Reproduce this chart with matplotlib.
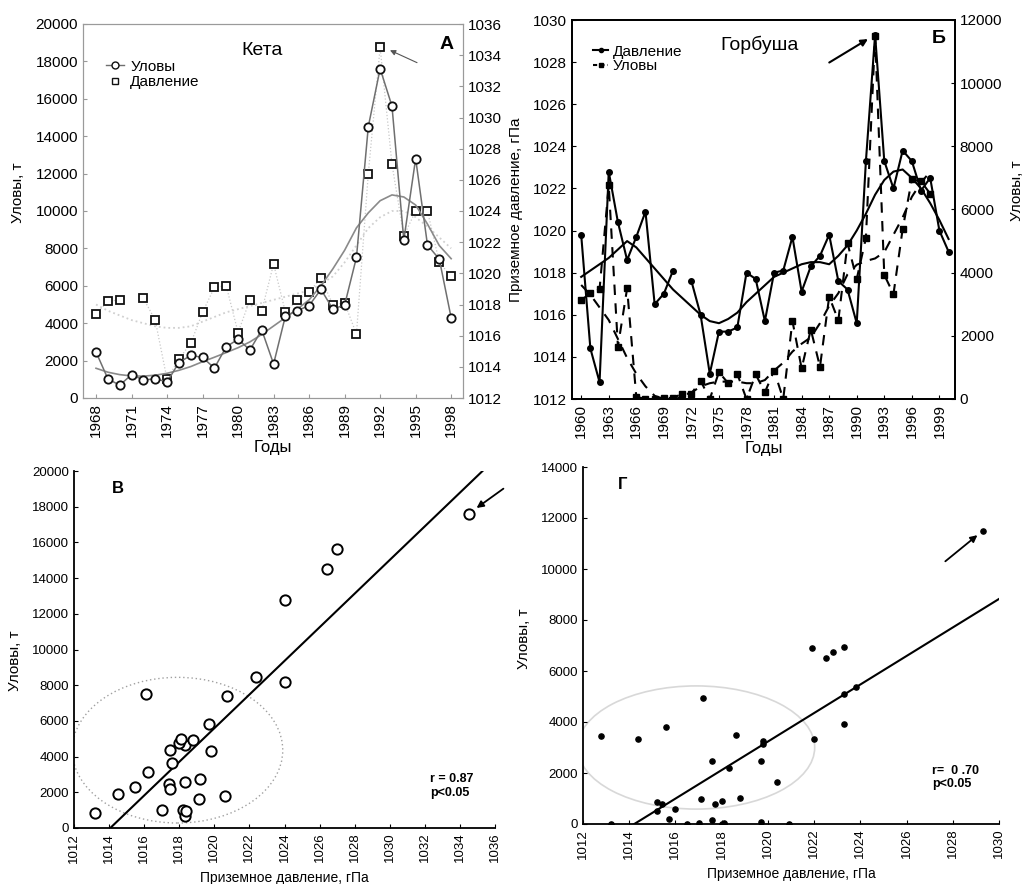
import numpy as np
import matplotlib.pyplot as plt
from matplotlib.lines import Line2D
from matplotlib.patches import Ellipse

plt.rcParams['font.family'] = ['Liberation Sans', 'DejaVu Sans']

# Кета: catches (t) and surface pressure (hPa), 1968-1998
keta_years = np.arange(1968, 1999)
keta_catch = [2460, 1030, 680, 1250, 960, 1030, 860, 1890, 2280, 2170, 1600,
              2740, 3140, 2570, 3640, 1820, 4390, 4670, 4940, 5810, 4760, 4970,
              7520, 14510, 17610, 15610, 8450, 12800, 8180, 7420, 4290]
keta_press = [1017.4, 1018.2, 1018.3, np.nan, 1018.4, 1017.0, 1013.2, 1014.5,
              1015.5, 1017.5, 1019.1, 1019.2, 1016.2, 1018.3, 1017.6, 1020.6,
              1017.5, 1018.3, 1018.8, 1019.7, 1018.0, 1018.1, 1016.1, 1026.4,
              1034.5, 1027.0, 1022.4, 1024.0, 1024.0, 1020.7, 1019.8]
# smoothed curves
keta_catch_trend = [1590, 1380, 1250, 1180, 1170, 1220, 1320, 1480, 1680, 1940,
                    2180, 2430, 2690, 3000, 3400, 3850, 4300, 4750, 5250, 6000,
                    6900, 7900, 9100, 9900, 10550, 10860, 10750, 10320, 9300,
                    8150, 7450]
keta_press_trend = [1018.0, 1017.6, 1017.3, 1017.0, 1016.8, 1016.6, 1016.5,
                    1016.5, 1016.6, 1016.9, 1017.2, 1017.5, 1017.7, 1017.9,
                    1018.1, 1018.3, 1018.5, 1018.7, 1018.9, 1019.3, 1019.8,
                    1020.7, 1021.8, 1022.9, 1023.6, 1024.0, 1024.0, 1023.6,
                    1023.0, 1022.3, 1021.6]

# Горбуша: pressure 1960-2000, catches 1960-1998
gorb_years = np.arange(1960, 2001)
gorb_press = [1019.8, 1014.4, 1012.8, 1022.8, 1020.4, 1018.6, 1019.7, 1020.9,
              1016.5, 1017.0, 1018.1, np.nan, 1017.6, 1016.0, 1013.2, 1015.2,
              1015.2, 1015.4, 1018.0, 1017.7, 1015.7, 1018.0, 1018.1, 1019.7,
              1017.1, 1018.3, 1018.8, 1019.8, 1017.6, 1017.2, 1015.6, 1023.3,
              1029.3, 1023.3, 1022.0, 1023.8, 1023.3, 1021.9, 1022.5, 1020.0,
              1019.0]
gorb_catch = [3130, 3350, 3470, 6760, 1660, 3500, 70, 0, 0, 20, 40, 160, 170,
              580, 0, 850, 500, 790, 0, 780, 210, 900, 0, 2470, 970, 2200, 1020,
              3240, 2490, 4930, 3800, 5100, 11500, 3930, 3320, 5380, 6950, 6890,
              6500, np.nan, np.nan]
gorb_press_trend = [1017.8, 1018.1, 1018.4, 1018.7, 1019.1, 1019.5, 1019.2,
                    1018.7, 1018.2, 1017.7, 1017.2, 1016.8, 1016.4, 1016.0,
                    1015.7, 1015.6, 1015.8, 1016.1, 1016.6, 1017.0, 1017.4,
                    1017.8, 1018.0, 1018.2, 1018.4, 1018.5, 1018.5, 1018.4,
                    1018.8, 1019.3, 1020.0, 1020.8, 1021.7, 1022.4, 1022.8,
                    1022.9, 1022.5, 1022.0, 1021.3, 1020.5, 1019.6]
gorb_catch_trend = [3610, 3300, 2900, 2500, 1900, 1300, 800, 400, 100, 0, 0, 50,
                    200, 400, 500, 550, 550, 550, 500, 500, 600, 900, 1150, 1500,
                    1750, 1950, 2400, 2950, 3350, 3950, 4250, 4370, 4450, 4650,
                    5200, 5750, 6400, 6850, 7200]

fig = plt.figure(figsize=(10.26, 8.84), dpi=100)
W, H = 1026, 884


def px_axes(left, top, right, bottom):
    return fig.add_axes([left / W, 1 - bottom / H, (right - left) / W, (bottom - top) / H])


# ---------------- A: Кета time series ----------------
ax_a = px_axes(83, 24, 463, 398)
ax_a2 = ax_a.twinx()
ax_a.set_zorder(ax_a2.get_zorder() + 1)
ax_a.patch.set_visible(False)

ax_a2.plot(keta_years, keta_press_trend, color='#d0d0d0', lw=1.3, ls=':')
ax_a2.plot(keta_years, keta_press, color='#c8c8c8', lw=0.9, ls=':',
           marker='s', ms=6, mfc='white', mec='#111111', mew=1.3)
ax_a.plot(keta_years, keta_catch_trend, color='#8a8a8a', lw=1.2)
ax_a.plot(keta_years, keta_catch, color='#6f6f6f', lw=1.1,
          marker='o', ms=6, mfc='white', mec='#111111', mew=1.3)

ax_a.set_xlim(1966.9, 1999.0)
ax_a.set_ylim(0, 20000)
ax_a2.set_ylim(1012, 1036)
ax_a.set_xticks(np.arange(1968, 1999, 3))
ax_a.set_yticks(np.arange(0, 20001, 2000))
ax_a2.set_yticks(np.arange(1012, 1037, 2))
ax_a.tick_params(axis='x', labelrotation=90)
for a in (ax_a, ax_a2):
    a.tick_params(labelsize=11, direction='in', length=3, color='#999999')
    for s in a.spines.values():
        s.set_color('#9a9a9a')
ax_a.set_ylabel('Уловы, т', fontsize=11)
ax_a.yaxis.set_label_coords(-0.153, 0.55)
ax_a.set_xlabel('Годы', fontsize=12, labelpad=2)
ax_a.text(0.47, 0.93, 'Кета', transform=ax_a.transAxes, fontsize=14, ha='center', va='center')
ax_a.text(0.975, 0.945, 'А', transform=ax_a.transAxes, fontsize=14, fontweight='bold',
          ha='right', va='center')
ax_a2.annotate('', xy=(1992.3, keta_press[24]), xytext=(24, -11), textcoords='offset points',
               arrowprops=dict(arrowstyle='-|>', color='#555555', lw=0.8,
                               mutation_scale=8, shrinkA=0, shrinkB=5))
leg_a = [Line2D([], [], color='#6f6f6f', lw=1, marker='o', ms=5, mfc='white', mec='#111111'),
         Line2D([], [], color='none', marker='s', ms=5, mfc='white', mec='#111111')]
ax_a.legend(leg_a, ['Уловы', 'Давление'], loc='upper left', bbox_to_anchor=(0.04, 0.925),
            frameon=False, fontsize=11, handlelength=1.2, handletextpad=0.4,
            borderpad=0, labelspacing=0.1)

# ---------------- Б: Горбуша time series ----------------
ax_b = px_axes(572, 20, 955, 399)
ax_b2 = ax_b.twinx()
ax_b.plot(gorb_years, gorb_press_trend, color='black', lw=1.5)
ax_b.plot(gorb_years, gorb_press, color='black', lw=1.5, marker='o', ms=4)
ax_b2.plot(gorb_years[:len(gorb_catch_trend)], gorb_catch_trend, color='black',
           lw=1.5, ls=(0, (5, 4)))
ax_b2.plot(gorb_years, gorb_catch, color='black', lw=1.5, ls=(0, (5, 4)),
           marker='s', ms=4)
ax_b.set_xlim(1959.0, 2000.7)
ax_b.set_ylim(1012, 1030)
ax_b2.set_ylim(0, 12000)
ax_b.set_xticks(np.arange(1960, 2000, 3))
ax_b.set_yticks(np.arange(1012, 1031, 2))
ax_b2.set_yticks(np.arange(0, 12001, 2000))
ax_b.tick_params(axis='x', labelrotation=90)
for a in (ax_b, ax_b2):
    a.tick_params(labelsize=11, direction='in', length=3)
    for s in a.spines.values():
        s.set_linewidth(1.3)
ax_b.set_ylabel('Приземное давление, гПа', fontsize=11)
ax_b.yaxis.set_label_coords(-0.127, 0.5)
ax_b2.set_ylabel('Уловы, т', fontsize=11)
ax_b2.yaxis.set_label_coords(1.143, 0.55)
ax_b.set_xlabel('Годы', fontsize=12, labelpad=2)
ax_b.text(0.49, 0.935, 'Горбуша', transform=ax_b.transAxes, fontsize=14,
          ha='center', va='center')
ax_b.text(0.975, 0.95, 'Б', transform=ax_b.transAxes, fontsize=14, fontweight='bold',
          ha='right', va='center')
ax_b.annotate('', xy=(1992, gorb_press[32]), xytext=(-33, -20), textcoords='offset points',
              arrowprops=dict(arrowstyle='-|>', color='black', lw=1.5,
                              mutation_scale=10, shrinkA=0, shrinkB=6))
leg_b = [Line2D([], [], color='black', lw=1.5, marker='o', ms=3),
         Line2D([], [], color='black', lw=1.5, ls=(0, (2, 1.5)), marker='s', ms=3)]
ax_b.legend(leg_b, ['Давление', 'Уловы'], loc='upper left', bbox_to_anchor=(0.035, 0.955),
            frameon=False, fontsize=11, handlelength=1.0, handletextpad=0.3,
            borderpad=0, labelspacing=0.05)

# ---------------- В: Кета scatter ----------------
ax_c = px_axes(74, 471, 495, 828)
kp = np.array(keta_press)
kc = np.array(keta_catch, dtype=float)
ok = ~np.isnan(kp)
ax_c.scatter(kp[ok], kc[ok], s=55, facecolors='white', edgecolors='black', linewidths=1.4, zorder=3)
slope, icpt = np.polyfit(kp[ok], kc[ok], 1)
xx = np.array([1012, 1036])
ax_c.plot(xx, slope * xx + icpt, color='black', lw=1.5)
ax_c.add_patch(Ellipse((1017.9, 4360), 12.0, 8160, fill=False, ec='#a0a0a0',
                       lw=1.0, ls=(0, (1, 2))))
ax_c.set_xlim(1012, 1036)
ax_c.set_ylim(0, 20000)
ax_c.set_xticks(np.arange(1012, 1037, 2))
ax_c.set_yticks(np.arange(0, 20001, 2000))
ax_c.tick_params(axis='x', labelrotation=90)
ax_c.tick_params(labelsize=9.5, direction='in', length=3)
ax_c.spines[['top', 'right']].set_visible(False)
for s in ('left', 'bottom'):
    ax_c.spines[s].set_linewidth(1.3)
ax_c.set_ylabel('Уловы, т', fontsize=11)
ax_c.yaxis.set_label_coords(-0.124, 0.47)
ax_c.set_xlabel('Приземное давление, гПа', fontsize=10, labelpad=6)
ax_c.text(0.09, 0.95, 'В', transform=ax_c.transAxes, fontsize=12, fontweight='bold', va='center')
ax_c.text(0.845, 0.118, 'r = 0.87\np<0.05', transform=ax_c.transAxes, fontsize=9,
          fontweight='bold', va='center', linespacing=1.3)
ax_c.annotate('', xy=(keta_press[24], keta_catch[24]), xytext=(25, 18),
              textcoords='offset points', annotation_clip=False,
              arrowprops=dict(arrowstyle='-|>', color='black', lw=1.3,
                              mutation_scale=10, shrinkA=0, shrinkB=7))

# ---------------- Г: Горбуша scatter ----------------
ax_d = px_axes(583, 467, 999, 824)
gp = np.array(gorb_press)
gc = np.array(gorb_catch, dtype=float)
ok = ~np.isnan(gp) & ~np.isnan(gc)
ax_d.scatter(gp[ok], gc[ok], s=14, color='black', zorder=3)
slope, icpt = np.polyfit(gp[ok], gc[ok], 1)
xx = np.array([1012, 1030])
ax_d.plot(xx, slope * xx + icpt, color='black', lw=1.5)
ax_d.add_patch(Ellipse((1016.9, 3000), 10.25, 4830, fill=False, ec='#d8d8d8', lw=1.2))
ax_d.set_xlim(1012, 1030)
ax_d.set_ylim(0, 14000)
ax_d.set_xticks(np.arange(1012, 1031, 2))
ax_d.set_yticks(np.arange(0, 14001, 2000))
ax_d.tick_params(axis='x', labelrotation=90)
ax_d.tick_params(labelsize=9.5, direction='in', length=3)
ax_d.spines[['top', 'right']].set_visible(False)
for s in ('left', 'bottom'):
    ax_d.spines[s].set_linewidth(1.3)
ax_d.set_ylabel('Уловы, т', fontsize=11)
ax_d.yaxis.set_label_coords(-0.125, 0.52)
ax_d.set_xlabel('Приземное давление, гПа', fontsize=10, labelpad=6)
ax_d.text(0.085, 0.95, 'Г', transform=ax_d.transAxes, fontsize=12, fontweight='bold', va='center')
ax_d.text(0.84, 0.13, 'r=  0 .70\np<0.05', transform=ax_d.transAxes, fontsize=9,
          fontweight='bold', va='center', linespacing=1.2)
ax_d.annotate('', xy=(gorb_press[32], gorb_catch[32]), xytext=(-27, -22),
              textcoords='offset points',
              arrowprops=dict(arrowstyle='-|>', color='black', lw=1.3,
                              mutation_scale=10, shrinkA=0, shrinkB=5))

fig.savefig('out.png', dpi=100)
